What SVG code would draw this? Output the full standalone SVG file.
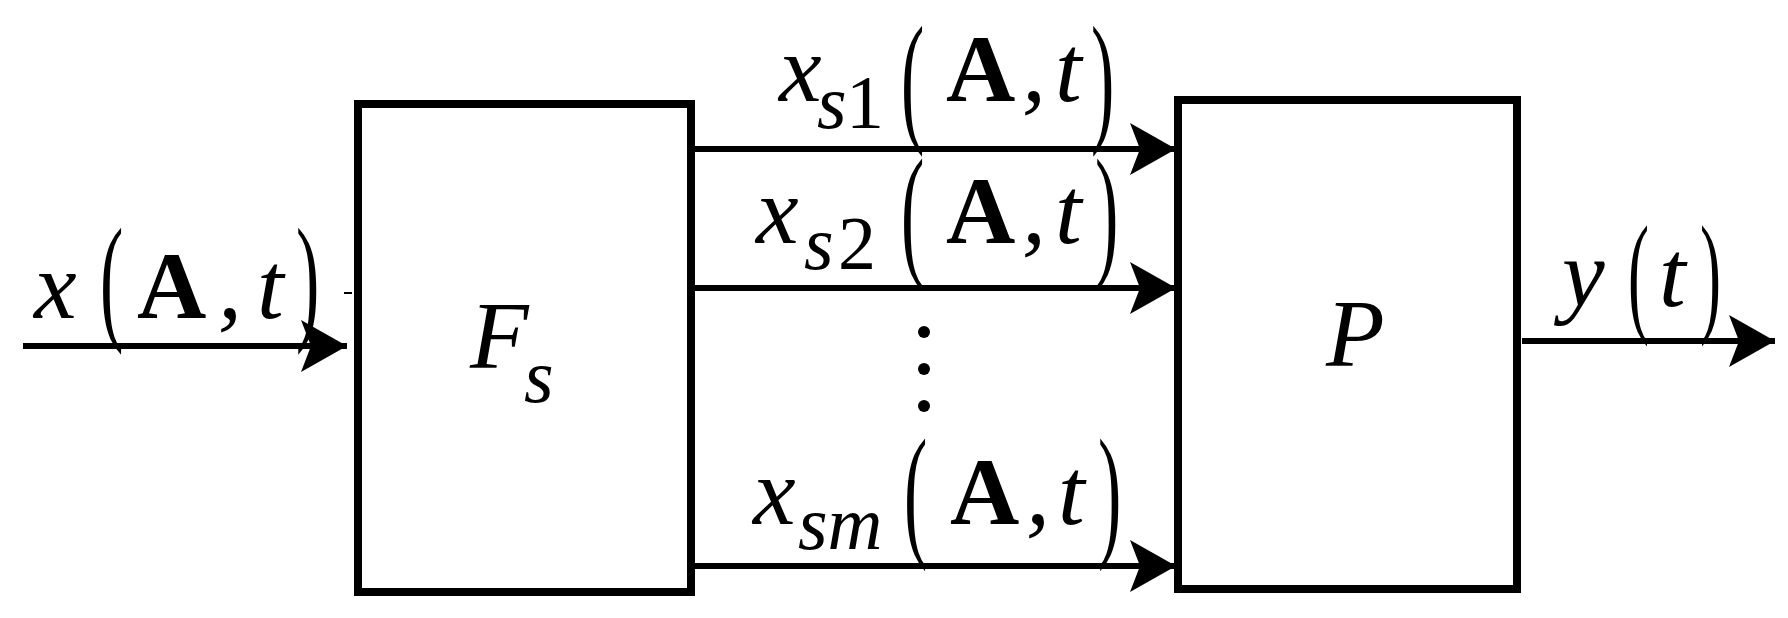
<svg xmlns="http://www.w3.org/2000/svg" width="1788" height="618" viewBox="0 0 1788 618">
<style>
.box{fill:#fff;stroke:#000;stroke-width:8}
.ln{stroke:#000;stroke-width:6;fill:none}
text{font-family:'Liberation Serif','Times New Roman',serif;fill:#000}
.i{font-style:italic;font-size:96px}
.s{font-style:italic;font-size:76px}
.n{font-style:normal;font-size:76px}
.b{font-weight:bold;font-size:96px}
.p{font-size:140px;font-weight:normal}
</style>
<defs>
<marker id="ah" viewBox="0 0 46 52" refX="46" refY="26" markerWidth="46" markerHeight="52" markerUnits="userSpaceOnUse" orient="auto">
<path d="M0,0 L46,26 L0,52 L10,26 Z" fill="#000"/>
</marker>
</defs>
<rect width="1788" height="618" fill="#fff"/>
<g id="Fs"><rect class="box" x="358" y="104" width="333" height="488"/>
<text class="i" x="470" y="368">F</text><text class="s" x="524" y="402">s</text></g>
<g id="P"><rect class="box" x="1178" y="100" width="339" height="489"/>
<text class="i" x="1326" y="366">P</text></g>
<g id="connectors">
<line class="ln" x1="23" y1="346" x2="347" y2="346" marker-end="url(#ah)"/>
<line x1="344" y1="293" x2="352" y2="293" stroke="#000" stroke-width="2"/>
<line class="ln" x1="691" y1="149" x2="1176" y2="149" marker-end="url(#ah)"/>
<line class="ln" x1="691" y1="288" x2="1176" y2="288" marker-end="url(#ah)"/>
<line class="ln" x1="691" y1="566" x2="1176" y2="566" marker-end="url(#ah)"/>
<line class="ln" x1="1522" y1="341" x2="1775" y2="341" marker-end="url(#ah)"/>
<circle cx="924" cy="332" r="6"/><circle cx="924" cy="369" r="6"/><circle cx="924" cy="406" r="6"/>
</g>
<g id="labels">
<text class="i" x="34" y="318">x</text>
<text class="p" transform="translate(100,325) scale(0.5,1)">(</text>
<text class="b" x="137" y="318">A</text><text class="i" x="218" y="318">,</text><text class="i" x="257" y="318">t</text>
<text class="p" transform="translate(296,325) scale(0.5,1)">)</text>

<text class="i" x="779" y="101">x</text><text class="s" x="817" y="128">s</text><text class="n" x="846" y="128">1</text>
<text class="p" transform="translate(901,126) scale(0.5,1.03)">(</text>
<text class="b" x="946" y="101">A</text><text class="i" x="1022" y="101">,</text><text class="i" x="1055" y="101">t</text>
<text class="p" transform="translate(1091,126) scale(0.5,1.03)">)</text>

<text class="i" x="756" y="243">x</text><text class="s" x="804" y="269">s</text><text class="n" x="838" y="269">2</text>
<text class="p" transform="translate(901,260) scale(0.5,1.05)">(</text>
<text class="b" x="946" y="243">A</text><text class="i" x="1022" y="243">,</text><text class="i" x="1055" y="243">t</text>
<text class="p" transform="translate(1095,260) scale(0.5,1.05)">)</text>

<text class="i" x="753" y="524">x</text><text class="s" x="798" y="549">sm</text>
<text class="p" transform="translate(904,540) scale(0.5,1.05)">(</text>
<text class="b" x="950" y="524">A</text><text class="i" x="1026" y="524">,</text><text class="i" x="1058" y="524">t</text>
<text class="p" transform="translate(1098,540) scale(0.5,1.05)">)</text>

<text class="i" x="1562" y="306">y</text>
<text class="p" transform="translate(1628,318) scale(0.45,0.95)">(</text>
<text class="i" x="1659" y="306">t</text>
<text class="p" transform="translate(1700,318) scale(0.45,0.95)">)</text>
</g>
</svg>
